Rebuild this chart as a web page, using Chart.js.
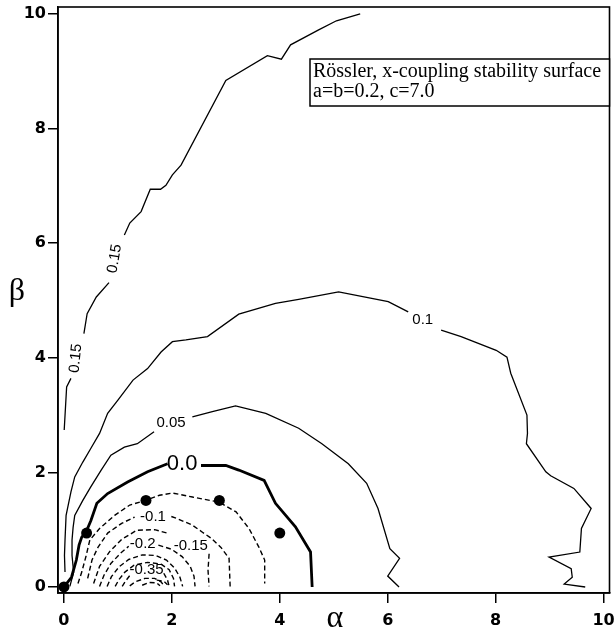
<!DOCTYPE html>
<html><head><meta charset="utf-8">
<script src="https://cdn.jsdelivr.net/npm/chart.js@4.4.0/dist/chart.umd.min.js"></script>
<style>html,body{margin:0;padding:0;background:#fff;}canvas{display:block;}</style>
</head><body>
<canvas id="c" width="615" height="635"></canvas>
<script>
const xTicks = [0, 2, 4, 6, 8, 10];
const yTicks = [0, 2, 4, 6, 8, 10];

// contour lines: [alpha, beta] pairs, null = gap for label
const c015 = [[5.49,10.0],[5.05,9.88],[4.72,9.72],[4.20,9.46],[4.03,9.21],[3.77,9.27],[3.00,8.84],[2.17,7.36],[2.01,7.19],[1.89,7.01],[1.79,6.94],[1.60,6.94],[1.43,6.55],[1.22,6.35],[1.12,6.14],null,[0.835,5.31],[0.60,5.06],[0.43,4.77],[0.37,4.42],null,[0.13,3.64],[0.05,3.49],[0.005,2.74]];
const c010 = [[0.02,0.26],[0.01,0.55],[0.02,0.82],[0.04,1.25],[0.06,1.34],[0.13,1.66],[0.20,1.92],[0.35,2.18],[0.50,2.42],[0.66,2.68],[0.81,3.03],[1.00,3.26],[1.28,3.61],[1.55,3.81],[1.80,4.10],[2.01,4.28],[2.26,4.31],[2.66,4.37],[3.24,4.76],[3.92,4.95],[4.35,5.02],[5.09,5.15],[6.01,4.98],[6.38,4.80],null,[6.99,4.48],[7.36,4.37],[8.01,4.13],[8.21,4.01],[8.28,3.73],[8.58,3.0],[8.59,2.68],[8.57,2.50],[8.93,2.01],[9.02,1.94],[9.45,1.72],[9.77,1.37],[9.59,1.02],[9.56,0.61],[8.99,0.52],[9.40,0.32],[9.42,0.17],[9.27,0.05],[9.66,0.0]];
const c005 = [[0.11,0.01],[0.18,0.26],[0.15,0.55],[0.15,0.82],[0.17,1.04],[0.20,1.25],[0.35,1.51],[0.50,1.75],[0.69,2.04],[0.87,2.30],[1.12,2.44],[1.36,2.50],[1.67,2.71],null,[2.38,2.97],[2.75,3.06],[3.18,3.16],[3.74,3.03],[4.35,2.77],[4.78,2.50],[5.27,2.15],[5.61,1.81],[5.82,1.37],[6.04,0.67],[6.22,0.50],[6.00,0.19],[6.21,0.0]];
const c000 = [[0,0],[0.14,0.17],[0.23,0.47],[0.28,0.73],[0.33,0.87],[0.41,0.96],[0.50,1.16],[0.61,1.46],[0.81,1.63],[1.18,1.83],[1.55,2.01],[1.92,2.15],null,[2.54,2.12],[3.00,2.12],[3.24,2.04],[3.71,1.86],[3.92,1.46],[4.29,1.05],[4.57,0.61],[4.60,0.0]];
const m005 = [[0.26,0.06],[0.33,0.26],[0.41,0.54],[0.48,0.82],[0.66,1.02],[0.94,1.25],[1.22,1.43],[1.51,1.51],[1.77,1.60],[2.01,1.64],[2.38,1.57],[2.88,1.48],[3.19,1.31],[3.43,1.02],[3.61,0.70],[3.72,0.47],[3.72,0.06]];
const m010 = [[0.44,0.15],[0.52,0.47],[0.63,0.69],[0.81,0.94],[1.07,1.11],[1.31,1.22],null,[1.99,1.23],[2.08,1.20],[2.38,1.08],[2.56,0.96],[2.73,0.85],[2.91,0.69],[3.06,0.50],[3.08,0.01]];
const m015 = [[0.55,0.06],[0.66,0.36],[0.85,0.62],[1.07,0.83],[1.35,0.99],[1.68,1.0],[1.92,0.94],null,[2.69,0.58],[2.67,0.29],[2.69,0.01]];
const m020 = [[0.66,0.01],[0.74,0.20],[0.87,0.41],[1.05,0.59],[1.20,0.71],null,[1.75,0.73],[1.99,0.66],[2.19,0.53],[2.34,0.36],[2.41,0.19],[2.43,0.01]];
const m025 = [[0.80,0.01],[0.88,0.18],[1.02,0.35],[1.20,0.48],[1.45,0.56],[1.70,0.55],[1.90,0.47],[2.05,0.33],[2.15,0.17],[2.20,0.01]];
const m030 = [[0.95,0.01],[1.02,0.13],[1.13,0.26],[1.30,0.38],[1.55,0.43],[1.80,0.40],[1.95,0.30],[2.03,0.15],[2.05,0.01]];
const m035 = [[1.08,0.01],[1.14,0.10],[1.22,0.20],null,[1.85,0.24],[1.92,0.12],[1.95,0.01]];
const m040 = [[1.22,0.02],[1.32,0.09],[1.50,0.15],[1.68,0.15],[1.80,0.09],[1.86,0.01]];
const m045 = [[1.45,0.03],[1.58,0.08],[1.72,0.07],[1.78,0.02]];
const m050 = [[1.72,0.12],[1.85,0.10],[1.92,0.04]];

const dotsX = [0, 0.42, 1.52, 2.88, 4.0];
const dotsY = [0, 0.94, 1.51, 1.51, 0.94];

const labelText = ['0.15', '0.15', '0.1', '0.05', '0.0', '-0.1', '-0.2', '-0.15', '-0.35'];
const labelX = [0.94, 0.22, 6.65, 1.985, 2.19, 1.65, 1.46, 2.35, 1.53];
const labelY = [5.73, 3.99, 4.66, 2.87, 2.15, 1.22, 0.76, 0.72, 0.30];
const labelRot = [-80, -84, 0, 0, 0, 0, 0, 0, 0];

const legendLines = ['Rössler, x-coupling stability surface', 'a=b=0.2, c=7.0'];

function pts(arr){
  const out = []; let px = 0;
  arr.forEach(p => { if (p === null) out.push({x: px, y: null}); else { px = p[0]; out.push({x: p[0], y: p[1]}); } });
  return out;
}
function line(arr, opts){
  return Object.assign({data: pts(arr), showLine: true, pointRadius: 0, borderColor: '#000', borderWidth: 1.3, spanGaps: false, tension: 0, fill: false}, opts || {});
}
const dash = {borderDash: [5, 3], borderWidth: 1.4};

const datasets = [
  line(c015), line(c010), line(c005), line(c000, {borderWidth: 2.8}),
  line(m005, dash), line(m010, dash), line(m015, dash), line(m020, dash), line(m025, dash),
  line(m030, dash), line(m035, dash), line(m040, dash), line(m045, dash), line(m050, dash),
  {data: dotsX.map((x, i) => ({x: x, y: dotsY[i]})), showLine: false, pointRadius: 5.5, pointBackgroundColor: '#000', pointBorderColor: '#000', pointBorderWidth: 0}
];

const deco = {
  id: 'deco',
  afterDatasetsDraw(chart){
    const {ctx, chartArea: a, scales: {x, y}} = chart;
    ctx.save();
    ctx.fillStyle = '#000';
    labelText.forEach((t, i) => {
      ctx.save();
      ctx.translate(x.getPixelForValue(labelX[i]), y.getPixelForValue(labelY[i]));
      ctx.rotate(labelRot[i] * Math.PI / 180);
      ctx.font = (t === '0.0' ? '22px' : '15px') + ' "Liberation Sans", Arial, sans-serif';
      ctx.textAlign = 'center'; ctx.textBaseline = 'middle';
      ctx.fillText(t, 0, 0);
      ctx.restore();
    });
    // frame
    ctx.lineWidth = 1.6; ctx.strokeStyle = '#000';
    ctx.strokeRect(a.left, a.top, a.right - a.left, a.bottom - a.top);
    // legend box
    const bx = a.right - 299.5, by = a.top + 52, bw = 299.5, bh = 47;
    ctx.fillStyle = '#fff'; ctx.fillRect(bx, by, bw, bh);
    ctx.lineWidth = 1.5; ctx.strokeRect(bx, by, bw, bh);
    ctx.fillStyle = '#000';
    ctx.font = '20px "Liberation Serif", "Times New Roman", serif';
    ctx.textAlign = 'left'; ctx.textBaseline = 'alphabetic';
    ctx.fillText(legendLines[0], bx + 3, by + 18);
    ctx.fillText(legendLines[1], bx + 3, by + 38);
    // axis titles
    ctx.font = '32px "Liberation Serif", "Times New Roman", serif';
    ctx.textAlign = 'center'; ctx.textBaseline = 'middle';
    ctx.fillText('α', 335, 619);
    ctx.fillText('β', 17, 292);
    ctx.restore();
  }
};

const tickFont = {family: '"DejaVu Sans", sans-serif', size: 16, weight: 'bold'};
new Chart(document.getElementById('c'), {
  type: 'scatter',
  data: {datasets: datasets},
  options: {
    responsive: false, animation: false,
    layout: {padding: {top: 7, right: 2, left: 0, bottom: 0}},
    plugins: {legend: {display: false}, tooltip: {enabled: false}},
    scales: {
      x: {type: 'linear', min: -0.11, max: 10.11,
        afterBuildTicks: s => { s.ticks = xTicks.map(v => ({value: v})); },
        afterFit: s => { s.height = 42; s.paddingLeft = 0; s.paddingRight = 0; },
        ticks: {color: '#000', font: tickFont, padding: 8, maxRotation: 0, autoSkip: false},
        grid: {drawOnChartArea: false, drawTicks: true, tickLength: 10, color: '#000', lineWidth: 1.5},
        border: {display: true, color: '#000', width: 1.5}},
      y: {type: 'linear', min: -0.105, max: 10.12,
        afterBuildTicks: s => { s.ticks = yTicks.map(v => ({value: v})); },
        afterFit: s => { s.width = 58; s.paddingTop = 0; s.paddingBottom = 0; },
        ticks: {color: '#000', font: tickFont, padding: 2, autoSkip: false},
        grid: {drawOnChartArea: false, drawTicks: true, tickLength: 10, color: '#000', lineWidth: 1.5},
        border: {display: true, color: '#000', width: 1.5}}
    }
  },
  plugins: [deco]
});
</script>
</body></html>
